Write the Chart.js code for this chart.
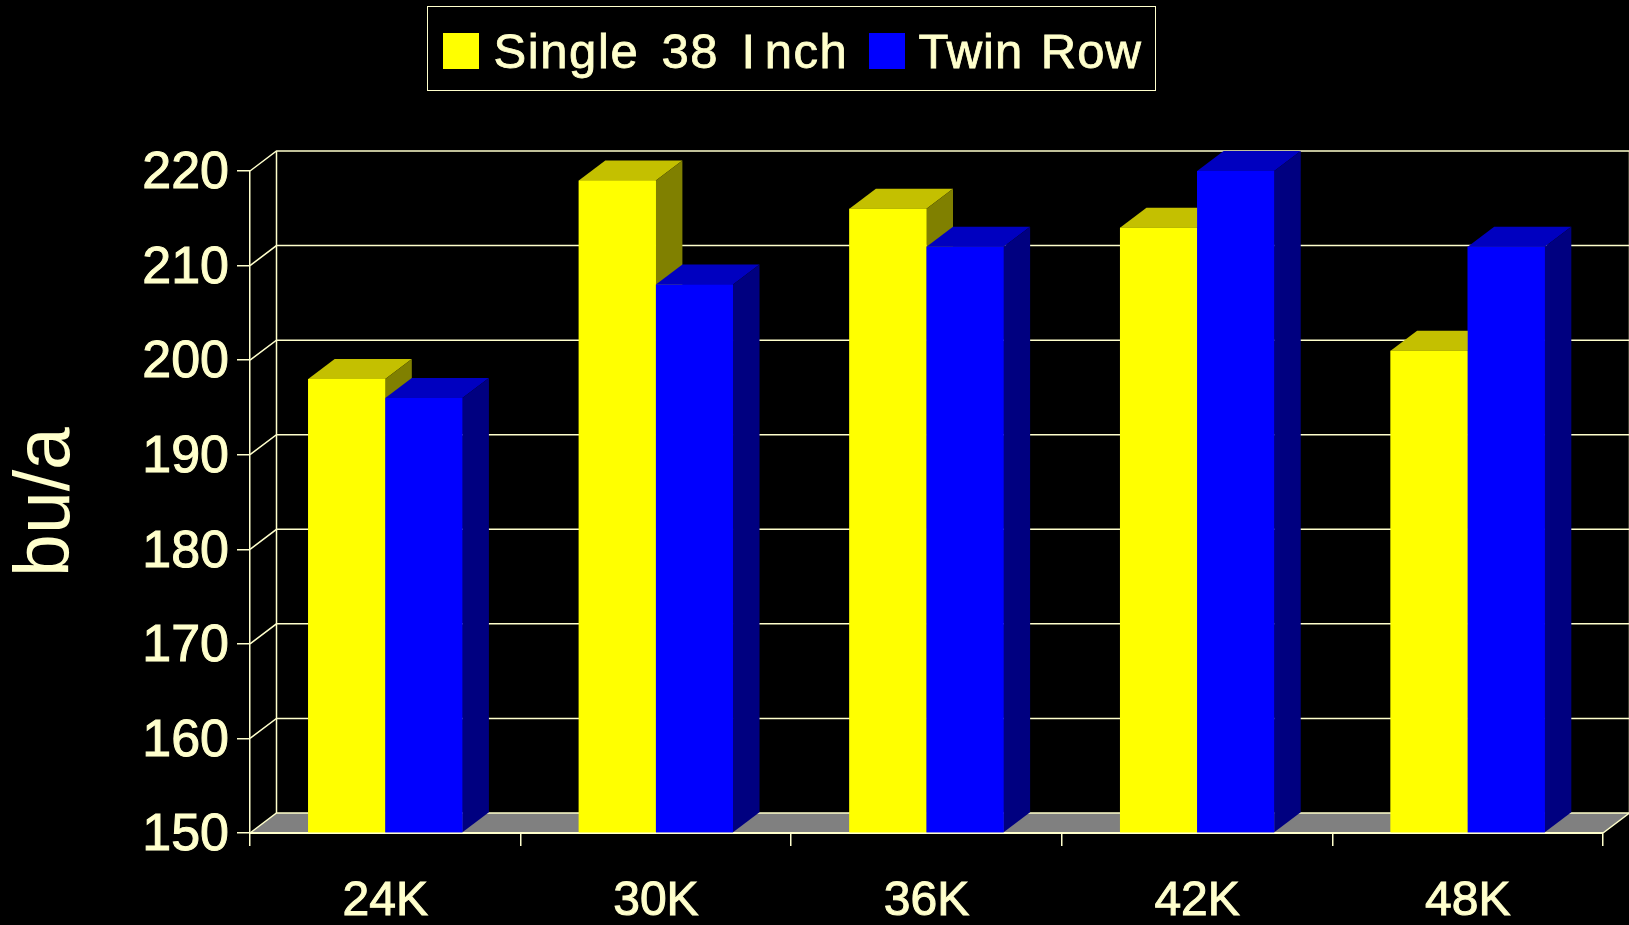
<!DOCTYPE html>
<html lang="en">
<head>
    <meta charset="UTF-8">
    <title>bu/a by population</title>
    <script src="https://cdn.jsdelivr.net/npm/chart.js@4"></script>
    <style>
        html, body {
            margin: 0;
            background: #000000;
            overflow: hidden;
        }
        #grafico {
            position: absolute;
            left: 0;
            top: 0;
        }
        #leyenda {
            position: absolute;
            left: 427px;
            top: 6px;
            width: 727px;
            height: 83px;
            border: 1.5px solid #ffffcc;
            font-family: "Liberation Sans", Arial, sans-serif;
            font-size: 49px;
            color: #ffffcc;
            -webkit-text-stroke: 0.8px #ffffcc;
        }
        #leyenda .caja {
            position: absolute;
            top: 26px;
            width: 36px;
            height: 36px;
        }
        #leyenda .nombre {
            position: absolute;
            top: 16px;
            white-space: nowrap;
            line-height: 56px;
        }
    </style>
</head>
<body>
    <canvas id="grafico" width="1629" height="925"></canvas>
    <div id="leyenda"></div>

    <script>
        const categories = ['24K', '30K', '36K', '42K', '48K'];
        const seriesNames = ['Single 38 Inch', 'Twin Row'];
        const singleValues = [198, 219, 216, 214, 201];
        const twinValues = [196, 208, 212, 220, 212];
        const yMin = 150;
        const yMax = 220;
        const yStep = 10;

        const crema = '#ffffcc';
        const fondoPiso = '#808080';
        const profX = 26.5;
        const profY = 20;

        function poligono(ctx, puntos, color) {
            ctx.beginPath();
            puntos.forEach((p, i) => i ? ctx.lineTo(p[0], p[1]) : ctx.moveTo(p[0], p[1]));
            ctx.closePath();
            ctx.fillStyle = color;
            ctx.fill();
        }

        // Paredes y piso del falso 3D, por detras de todo
        const paredes = {
            id: 'paredes',
            beforeDraw(chart) {
                const { ctx, chartArea: a, scales } = chart;
                ctx.save();
                poligono(ctx, [
                    [a.left, a.bottom], [a.right, a.bottom],
                    [a.right + profX, a.bottom - profY], [a.left + profX, a.bottom - profY]
                ], fondoPiso);
                ctx.strokeStyle = crema;
                ctx.lineWidth = 1.5;
                scales.y.ticks.forEach(t => {
                    const y = scales.y.getPixelForValue(t.value);
                    ctx.beginPath();
                    ctx.moveTo(a.left, y);
                    ctx.lineTo(a.left + profX, y - profY);
                    ctx.lineTo(a.right + profX, y - profY);
                    ctx.stroke();
                });
                ctx.beginPath();
                ctx.moveTo(a.left + profX, a.top - profY);
                ctx.lineTo(a.left + profX, a.bottom - profY);
                ctx.moveTo(a.right + profX, a.top - profY);
                ctx.lineTo(a.right + profX, a.bottom - profY);
                ctx.lineTo(a.right, a.bottom);
                ctx.stroke();
                ctx.restore();
            }
        };

        // Cara superior y lateral de cada barra; la serie de la derecha tapa a la de la izquierda
        const caras = {
            id: 'caras',
            afterDatasetsDraw(chart) {
                const ctx = chart.ctx;
                ctx.save();
                chart.data.datasets.forEach((ds, i) => {
                    chart.getDatasetMeta(i).data.forEach(bar => {
                        const izq = bar.x - bar.width / 2;
                        const der = bar.x + bar.width / 2;
                        poligono(ctx, [
                            [izq, bar.y], [der, bar.y],
                            [der + profX, bar.y - profY], [izq + profX, bar.y - profY]
                        ], ds.caraSuperior);
                        poligono(ctx, [
                            [der, bar.y], [der + profX, bar.y - profY],
                            [der + profX, bar.base - profY], [der, bar.base]
                        ], ds.caraLateral);
                        bar.draw(ctx);
                    });
                });
                ctx.restore();
            }
        };

        const grafico = new Chart(document.getElementById('grafico'), {
            type: 'bar',
            data: {
                labels: categories,
                datasets: [
                    {
                        label: seriesNames[0],
                        data: singleValues,
                        base: yMin,
                        backgroundColor: '#ffff00',
                        caraSuperior: '#c4c000',
                        caraLateral: '#808000'
                    },
                    {
                        label: seriesNames[1],
                        data: twinValues,
                        base: yMin,
                        backgroundColor: '#0000ff',
                        caraSuperior: '#0000c0',
                        caraLateral: '#000080'
                    }
                ]
            },
            options: {
                responsive: false,
                animation: false,
                devicePixelRatio: 1,
                categoryPercentage: 0.57,
                barPercentage: 1,
                layout: { padding: { top: 171, right: 26, left: 0, bottom: 0 } },
                plugins: {
                    legend: { display: false },
                    tooltip: { enabled: false }
                },
                scales: {
                    x: {
                        afterFit: s => { s.height = 92; },
                        border: { color: crema, width: 2 },
                        grid: { color: crema, lineWidth: 1.5, tickLength: 13, drawOnChartArea: false },
                        ticks: {
                            color: crema,
                            padding: 27,
                            maxRotation: 0,
                            textStrokeColor: crema,
                            textStrokeWidth: 1,
                            font: { family: '"Liberation Sans"', size: 48 }
                        }
                    },
                    y: {
                        min: yMin,
                        max: yMax,
                        afterFit: s => { s.width = 250; },
                        border: { color: crema, width: 1.5 },
                        grid: { color: crema, lineWidth: 1.5, tickLength: 13, drawOnChartArea: false },
                        ticks: {
                            stepSize: yStep,
                            color: crema,
                            padding: 8,
                            labelOffset: 3,
                            textStrokeColor: crema,
                            textStrokeWidth: 1,
                            font: { family: '"Liberation Sans"', size: 52 }
                        },
                        title: {
                            display: true,
                            text: 'bu/a',
                            color: crema,
                            padding: { top: 9, bottom: 0 },
                            font: { family: '"Liberation Sans"', size: 77, lineHeight: 1 }
                        }
                    }
                }
            },
            plugins: [paredes, caras]
        });

        // Leyenda en HTML para poder ajustar el espaciado del texto
        const leyenda = document.getElementById('leyenda');
        const posLeyenda = [
            { caja: 14.5, texto: 65.5, letra: 1.6, palabra: 7 },
            { caja: 440.5, texto: 490.5, letra: 1, palabra: 3 }
        ];
        grafico.data.datasets.forEach((ds, i) => {
            const p = posLeyenda[i];
            const caja = document.createElement('div');
            caja.className = 'caja';
            caja.style.left = p.caja + 'px';
            caja.style.background = ds.backgroundColor;
            const nombre = document.createElement('div');
            nombre.className = 'nombre';
            nombre.style.left = p.texto + 'px';
            nombre.style.letterSpacing = p.letra + 'px';
            nombre.style.wordSpacing = p.palabra + 'px';
            // la I mayuscula va separada en el original
            nombre.innerHTML = ds.label.replace('I', '<span style="margin-right:8px">I</span>');
            leyenda.appendChild(caja);
            leyenda.appendChild(nombre);
        });
    </script>
</body>
</html>
